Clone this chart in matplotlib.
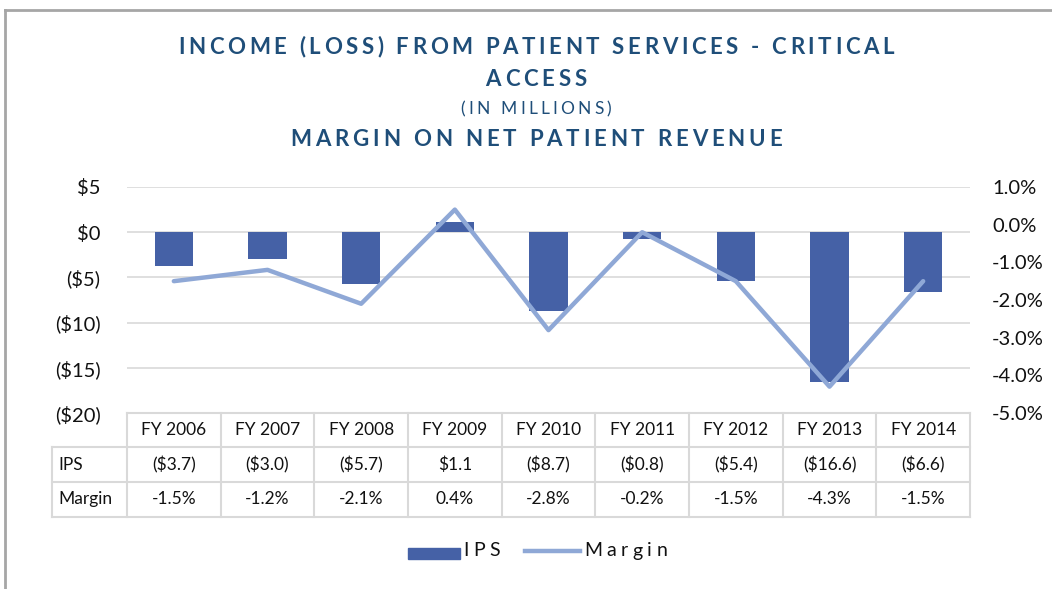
import numpy as np
import matplotlib
matplotlib.use("Agg")
from matplotlib import pyplot as plt
from matplotlib.lines import Line2D
from matplotlib.patches import Rectangle
from matplotlib.font_manager import FontProperties, findfont, get_font
import matplotlib.transforms as mtransforms

years = ["FY 2006", "FY 2007", "FY 2008", "FY 2009", "FY 2010",
         "FY 2011", "FY 2012", "FY 2013", "FY 2014"]
ips = [-3.7, -3.0, -5.7, 1.1, -8.7, -0.8, -5.4, -16.6, -6.6]
margin = [-1.5, -1.2, -2.1, 0.4, -2.8, -0.2, -1.5, -4.3, -1.5]
ips_ticks = [5, 0, -5, -10, -15, -20]
margin_ticks = [1, 0, -1, -2, -3, -4, -5]

BAR = "#4561a6"
LINE = "#8fa8d6"
TITLE = "#1f4e79"
GRID = "#d9d9d9"
TXT = "#111111"

plt.rcParams['font.family'] = ['Lato', 'DejaVu Sans']

W, H = 1052, 589
DPI = 100
fig = plt.figure(figsize=(W / DPI, H / DPI), dpi=DPI)


def spaced_text(xpos, ypx, s, spacing, size, weight='normal', color=TXT, ha='center'):
    """Texto con espaciado entre letras (como en Excel), coords en pixeles."""
    fp = FontProperties(family=['Lato'], weight=weight, size=size)
    font = get_font(findfont(fp))
    font.set_size(size, DPI)
    advs = [font.load_char(ord(c)).linearHoriAdvance / 65536 for c in s]
    total = sum(advs) + spacing * (len(s) - 1)
    xs = xpos - total / 2 if ha == 'center' else xpos
    for c, a in zip(s, advs):
        if c != ' ':
            fig.text(xs / W, 1 - ypx / H, c, ha='left', va='center', fontproperties=fp,
                     color=color)
        xs += a + spacing


# plot area in pixels
x0, x1, ytop, ybot = 127, 970, 187, 413
ax = fig.add_axes([x0 / W, 1 - ybot / H, (x1 - x0) / W, (ybot - ytop) / H])
ax2 = ax.twinx()

x = np.arange(len(years))
ax.bar(x, ips, width=0.41, color=BAR, zorder=3)
ax.set_xlim(-0.5, len(years) - 0.5)
ax.set_ylim(-20, 5)
ax.set_yticks(ips_ticks)
ax.set_yticklabels([f"${v}" if v >= 0 else f"(${-v})" for v in ips_ticks])
ax.yaxis.grid(True, color=GRID, lw=1.2, zorder=0)
ax.set_axisbelow(True)
ax.set_xticks([])
ax.tick_params(axis='y', length=0, pad=19, labelsize=14.5, labelcolor=TXT)
for s in ax.spines.values():
    s.set_visible(False)

ax2.plot(x, margin, color=LINE, lw=3.2, solid_capstyle='round', zorder=4)
ax2.set_ylim(-5, 1)
ax2.set_yticks(margin_ticks)
ax2.set_yticklabels([f"{v:.1f}%" for v in margin_ticks])
ax2.tick_params(axis='y', length=0, pad=16, labelsize=14.5, labelcolor=TXT)
for s in ax2.spines.values():
    s.set_visible(False)

# tabla de datos bajo el grafico
trans = mtransforms.blended_transform_factory(ax.transData, ax.transAxes)
hpx = ybot - ytop
rows = [0, -34 / hpx, -69 / hpx, -104 / hpx]
lab_left = -0.5 - (x0 - 52) / ((x1 - x0) / len(years))
tk = dict(transform=trans, clip_on=False, color=GRID, lw=1.5)
ax.add_line(Line2D([-0.5, 8.5], [rows[0], rows[0]], **tk))
for r in rows[1:]:
    ax.add_line(Line2D([lab_left, 8.5], [r, r], **tk))
for xv in np.arange(-0.5, 9.0, 1.0):
    ax.add_line(Line2D([xv, xv], [rows[0], rows[3]], **tk))
ax.add_line(Line2D([lab_left, lab_left], [rows[1], rows[3]], **tk))

tkw = dict(transform=trans, ha='center', va='center', fontsize=12.5, color=TXT)
for i, yr in enumerate(years):
    ax.text(i, (rows[0] + rows[1]) / 2, yr, **tkw)
    v = ips[i]
    ax.text(i, (rows[1] + rows[2]) / 2, f"${v:.1f}" if v >= 0 else f"(${-v:.1f})", **tkw)
    ax.text(i, (rows[2] + rows[3]) / 2, f"{margin[i]:.1f}%", **tkw)
ax.text(lab_left + 0.07, (rows[1] + rows[2]) / 2, "IPS", transform=trans,
        ha='left', va='center', fontsize=12.5, color=TXT)
ax.text(lab_left + 0.07, (rows[2] + rows[3]) / 2, "Margin", transform=trans,
        ha='left', va='center', fontsize=12.5, color=TXT)

# titulos
spaced_text(536, 47, "INCOME (LOSS) FROM PATIENT SERVICES - CRITICAL", 3.6, 16, 'bold', TITLE)
spaced_text(536, 80, "ACCESS", 3.8, 16, 'bold', TITLE)
spaced_text(536, 109, "(IN MILLIONS)", 3.2, 12.5, 'normal', TITLE)
spaced_text(536, 140, "MARGIN ON NET PATIENT REVENUE", 3.8, 16, 'bold', TITLE)

# leyenda
fig.add_artist(Rectangle((408 / W, 1 - 559 / H), 52 / W, 11 / H, color=BAR,
                         transform=fig.transFigure))
spaced_text(463, 551, "IPS", 4.5, 14, 'normal', TXT, ha='left')
fig.add_artist(Line2D([525 / W, 580 / W], [1 - 551 / H, 1 - 551 / H], color=LINE, lw=3.2))
spaced_text(584, 551, "Margin", 4.5, 14, 'normal', TXT, ha='left')

# marco del grafico
fig.add_artist(Line2D([5 / W, 1], [1 - 10 / H, 1 - 10 / H], color="#a6a6a6", lw=2))
fig.add_artist(Line2D([5 / W, 5 / W], [0, 1 - 10 / H], color="#a6a6a6", lw=2))

fig.savefig("out.png", dpi=DPI)
